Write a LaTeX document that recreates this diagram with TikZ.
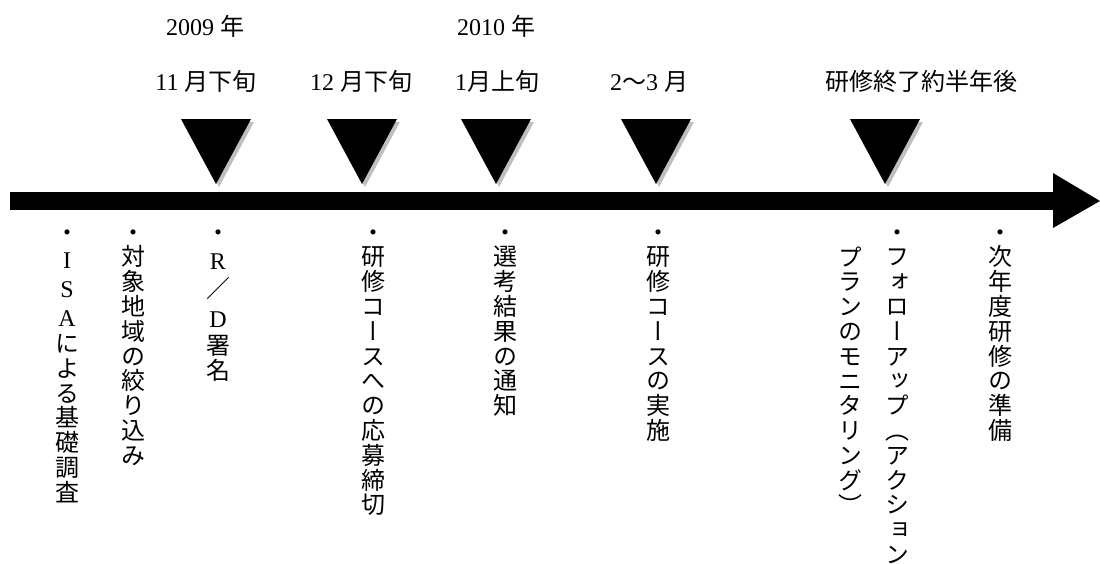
\documentclass[tikz,border=0pt]{standalone}
\usepackage{fontspec}
\setmainfont{Liberation Serif}
\newfontfamily\jp{Noto Sans CJK JP}
\newfontfamily\vjp[RawFeature=+vert]{Noto Sans CJK JP}
\newcommand\lt[1]{{\rmfamily #1}}
\tikzset{
  lbl/.style={anchor=base, inner sep=0pt, font=\fontsize{24}{24}\selectfont},
  vch/.style={anchor=base, inner sep=0pt, font=\fontsize{24}{24}\selectfont\vjp},
  shadowfill/.style={fill=black!25},
  markfill/.style={fill=black},
}
\newcommand\vcolumn[4]{\foreach \ch [count=\i from 0] in {#4}{\node[vch] (#1-\i) at (#2,{#3+9+\i*24.8}) {\ch};}}
\newcommand\vcolumnpos[3]{\foreach \ch/\yy [count=\i from 0] in {#3}{\node[vch] (#1-\i) at (#2,{\yy+9}) {\ch};}}
\newcommand\drawtri[1]{%
  \fill[shadowfill] ({#1-35+3},122) -- ({#1+35+3},122) -- ({#1+3},187) -- cycle;
  \fill[markfill] ({#1-35},119) -- ({#1+35},119) -- (#1,184) -- cycle;}
\begin{document}
\begin{tikzpicture}[x=1pt,y=-1pt]
\useasboundingbox (0,0) rectangle (1100,563);
% timeline arrow
\fill[markfill] (10,192) rectangle (1053,210);
\fill[markfill] (1053,173) -- (1100,201) -- (1053,228) -- cycle;
% markers
\drawtri{216}
\drawtri{362}
\drawtri{496}
\drawtri{656}
\drawtri{885}
% top labels
\node[lbl] (y2009) at (205,35) {2009 {\jp 年}};
\node[lbl] (y2010) at (496,35) {2010 {\jp 年}};
\node[lbl] (d1) at (206,90) {11 {\jp 月下旬}};
\node[lbl] (d2) at (361,90) {12 {\jp 月下旬}};
\node[lbl] (d3) at (497,90) {1{\jp 月上旬}};
\node[lbl] (d4) at (649,90) {2{\jp ～}3 {\jp 月}};
\node[lbl] (d5) at (921,90) {{\jp 研修終了約半年後}};
% vertical labels
\vcolumnpos{isa}{67}{・/232, \lt{I}/259, \lt{S}/288, \lt{A}/317, に/343, よ/368, る/393, 基/417, 礎/442, 調/467, 査/492}
\vcolumn{tgt}{133}{232}{・,対,象,地,域,の,絞,り,込,み}
\vcolumnpos{rd}{218}{・/232, \lt{R}/260, ／/288, \lt{D}/318, 署/345, 名/370}
\vcolumn{app}{373}{232}{・,研,修,コ,ー,ス,へ,の,応,募,締,切}
\vcolumn{sel}{505}{232}{・,選,考,結,果,の,通,知}
\vcolumn{imp}{658}{232}{・,研,修,コ,ー,ス,の,実,施}
\vcolumn{fola}{897}{232}{・,フ,ォ,ロ,ー,ア,ッ,プ,︵,ア,ク,シ,ョ,ン}
\vcolumn{folb}{850}{257}{プ,ラ,ン,の,モ,ニ,タ,リ,ン,グ,︶}
\vcolumn{nxt}{1000}{232}{・,次,年,度,研,修,の,準,備}
\end{tikzpicture}
\end{document}
